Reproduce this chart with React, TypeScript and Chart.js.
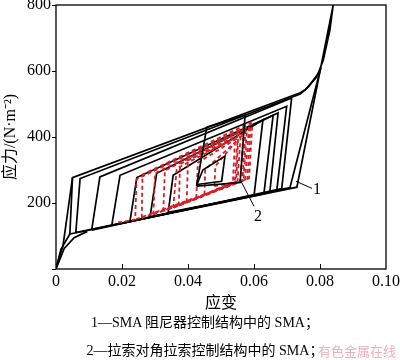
import React, { useEffect, useRef } from "react";
import { Chart, registerables } from "chart.js";

Chart.register(...registerables);

type Pt = [number, number];

// ---- axes ----
const strainTicks = [0, 0.02, 0.04, 0.06, 0.08, 0.1];
const stressTicks = [0, 200, 400, 600, 800];
const xTitle = "应变";
const yTitle = "应力/(N·m⁻²)";
const captionLines = ["1—SMA 阻尼器控制结构中的 SMA；", "2—拉索对角拉索控制结构中的 SMA；"];
const watermark = "有色金属在线";

// ---- series 1: SMA in damper-controlled structure (black, solid) ----
const damperStart: Pt[][] = [
  [[0, 0], [0.0015, 60], [0.0042, 106]],
  [[0, 4], [0.0021, 69], [0.005, 277]],
  [[0, 0], [0.0025, 62], [0.0055, 95], [0.0095, 114]],
];
const damperLoops: Pt[][] = [
  [[0.0042, 106], [0.005, 277], [0.074, 534], [0.0755, 543], [0.079, 582], [0.081, 633], [0.083, 724], [0.084, 800], [0.073, 248], [0.0042, 106]],
  [[0.006, 110], [0.0073, 274], [0.074, 530], [0.0765, 552], [0.08, 600], [0.0709, 247], [0.006, 110]],
  [[0.0108, 118], [0.0133, 279], [0.0714, 518], [0.0684, 244], [0.0108, 118]],
  [[0.0169, 132], [0.0194, 284], [0.0699, 493], [0.0669, 238], [0.0169, 132]],
  [[0.0224, 144], [0.0245, 277], [0.0673, 473], [0.0648, 233], [0.0224, 144]],
  [[0.0285, 158], [0.0305, 290], [0.0658, 466], [0.063, 228], [0.0285, 158]],
  [[0.034, 172], [0.0355, 284], [0.0627, 452], [0.06, 222], [0.034, 172]],
];
const damperInner: Pt[][] = [
  [[0.0426, 251], [0.0457, 430], [0.0573, 466], [0.0558, 262], [0.0426, 251]],
  [[0.0427, 256], [0.0445, 300], [0.0512, 342], [0.0502, 266], [0.0427, 256]],
];

// ---- series 2: SMA in diagonal-cable-controlled structure (red, dashed) ----
const cableLoops: Pt[][] = [
  [[0.0188, 141], [0.024, 150], [0.0244, 272], [0.0595, 440], [0.0585, 275], [0.024, 150]],
  [[0.026, 155], [0.0262, 286], [0.059, 444], [0.058, 273], [0.026, 155]],
  [[0.0295, 165], [0.03, 290], [0.0585, 432], [0.0573, 271], [0.0295, 165]],
  [[0.0325, 175], [0.033, 298], [0.0575, 425], [0.0565, 269], [0.0325, 175]],
  [[0.0355, 185], [0.0366, 305], [0.0578, 415], [0.0568, 268], [0.0355, 185]],
  [[0.0372, 192], [0.0376, 318], [0.056, 410], [0.055, 266], [0.0372, 192]],
  [[0.0396, 202], [0.04, 330], [0.0568, 405], [0.0558, 266], [0.0396, 202]],
  [[0.0425, 215], [0.043, 322], [0.0552, 398], [0.0546, 265], [0.0425, 215]],
  [[0.045, 226], [0.0452, 302], [0.055, 390], [0.0542, 265], [0.045, 226]],
  [[0.048, 251], [0.0483, 312], [0.0542, 382], [0.0536, 262], [0.048, 251]],
];

// ---- curve labels and leaders ----
const leader1: Pt[] = [[0.0727, 266], [0.0776, 244]];
const leader2: Pt[] = [[0.0558, 271], [0.06, 190]];
const curveLabelText = ["1", "2"];
const curveLabelAt: Pt[] = [[0.0791, 241], [0.0612, 157]];

const SERIF = "'Liberation Serif', 'Noto Sans CJK SC', serif";

const toXY = (p: Pt[]) => p.map(([x, y]) => ({ x, y }));

export default function App() {
  const ref = useRef<HTMLCanvasElement | null>(null);

  useEffect(() => {
    if (!ref.current) return;
    const black = (pts: Pt[], order: number, w = 1.7) => ({
      data: toXY(pts),
      showLine: true,
      borderColor: "#000",
      borderWidth: w,
      pointRadius: 0,
      fill: false,
      tension: 0,
      order,
    });
    const red = (pts: Pt[]) => ({
      data: toXY(pts),
      showLine: true,
      borderColor: "#d42028",
      borderWidth: 1.8,
      borderDash: [4, 3],
      pointRadius: 0,
      fill: false,
      tension: 0,
      order: 2,
    });
    const datasets: any[] = [
      ...damperStart.map((p) => black(p, 3)),
      ...damperLoops.map((p) => black(p, 3)),
      ...cableLoops.map(red),
      ...damperInner.map((p) => black(p, 1)),
      black(leader1, 1, 1),
      black(leader2, 1, 1),
    ];

    const framePlugin = {
      id: "frame",
      afterDraw(chart: any) {
        const { ctx, chartArea: a, scales } = chart;
        const x = scales.x;
        const y = scales.y;
        ctx.save();
        ctx.strokeStyle = "#000";
        ctx.lineWidth = 1.3;
        ctx.strokeRect(a.left, a.top, a.right - a.left, a.bottom - a.top);
        ctx.lineWidth = 1;
        for (const t of strainTicks) {
          if (t === strainTicks[0] || t === strainTicks[strainTicks.length - 1]) continue;
          const px = Math.round(x.getPixelForValue(t)) + 0.5;
          ctx.beginPath();
          ctx.moveTo(px, a.bottom);
          ctx.lineTo(px, a.bottom - 5);
          ctx.stroke();
        }
        ctx.fillStyle = "#000";
        ctx.font = `16px ${SERIF}`;
        ctx.textAlign = "center";
        ctx.textBaseline = "middle";
        curveLabelText.forEach((t, i) => {
          ctx.fillText(t, x.getPixelForValue(curveLabelAt[i][0]), y.getPixelForValue(curveLabelAt[i][1]));
        });
        ctx.restore();
      },
    };

    const chart = new Chart(ref.current, {
      type: "scatter",
      data: { datasets },
      options: {
        animation: false,
        responsive: false,
        events: [],
        layout: { padding: { top: 5, right: 14, left: 0, bottom: 0 } },
        plugins: { legend: { display: false }, tooltip: { enabled: false } },
        scales: {
          x: {
            type: "linear",
            min: strainTicks[0],
            max: strainTicks[strainTicks.length - 1],
            afterBuildTicks: (s: any) => {
              s.ticks = strainTicks.map((v) => ({ value: v }));
            },
            ticks: {
              color: "#000",
              font: { family: SERIF, size: 16 },
              padding: 3,
              maxRotation: 0,
              callback: (v: any) => (Number(v) === 0 ? "0" : Number(v).toFixed(2)),
            },
            grid: { display: false, drawTicks: false },
            border: { display: false },
            title: {
              display: true,
              text: xTitle,
              color: "#000",
              font: { family: SERIF, size: 16, lineHeight: 1.2 },
              padding: { top: 0, bottom: 2 },
            },
            afterFit: (s: any) => {
              s.height = 46;
              s.paddingLeft = 0;
              s.paddingRight = 0;
            },
          },
          y: {
            type: "linear",
            min: stressTicks[0],
            max: stressTicks[stressTicks.length - 1],
            afterBuildTicks: (s: any) => {
              s.ticks = stressTicks.map((v) => ({ value: v }));
            },
            ticks: {
              color: "#000",
              font: { family: SERIF, size: 16 },
              padding: 1,
              callback: (v: any) => (Number(v) === 0 ? "" : String(v)),
            },
            grid: { drawOnChartArea: false, drawTicks: true, tickLength: 4, color: "#000", lineWidth: 1 },
            border: { display: false },
            title: {
              display: true,
              text: yTitle,
              color: "#000",
              font: { family: SERIF, size: 16, lineHeight: 1.2 },
              padding: { top: 1, bottom: 0 },
            },
            afterFit: (s: any) => {
              s.width = 56;
              s.paddingTop = 0;
              s.paddingBottom = 0;
            },
          },
        },
      },
      plugins: [framePlugin],
    } as any);
    return () => chart.destroy();
  }, []);

  return (
    <div style={{ position: "absolute", left: 0, top: 0, width: 400, height: 360, background: "#fff", overflow: "hidden" }}>
      <canvas ref={ref} width={400} height={315} style={{ display: "block" }} />
      <div
        style={{
          position: "absolute",
          left: 0,
          width: 410,
          top: 314,
          textAlign: "center",
          fontFamily: SERIF,
          fontSize: 14,
          lineHeight: "18px",
          color: "#000",
          whiteSpace: "nowrap",
        }}
      >
        {captionLines[0]}
      </div>
      <div
        style={{
          position: "absolute",
          left: 0,
          width: 410,
          top: 342,
          textAlign: "center",
          fontFamily: SERIF,
          fontSize: 14,
          lineHeight: "18px",
          color: "#000",
          whiteSpace: "nowrap",
        }}
      >
        {captionLines[1]}
      </div>
      <div
        style={{
          position: "absolute",
          left: 318,
          top: 342,
          fontFamily: "'Noto Sans CJK SC', sans-serif",
          fontSize: 13,
          lineHeight: "18px",
          color: "rgba(232,150,160,0.75)",
          whiteSpace: "nowrap",
        }}
      >
        {watermark}
      </div>
    </div>
  );
}
